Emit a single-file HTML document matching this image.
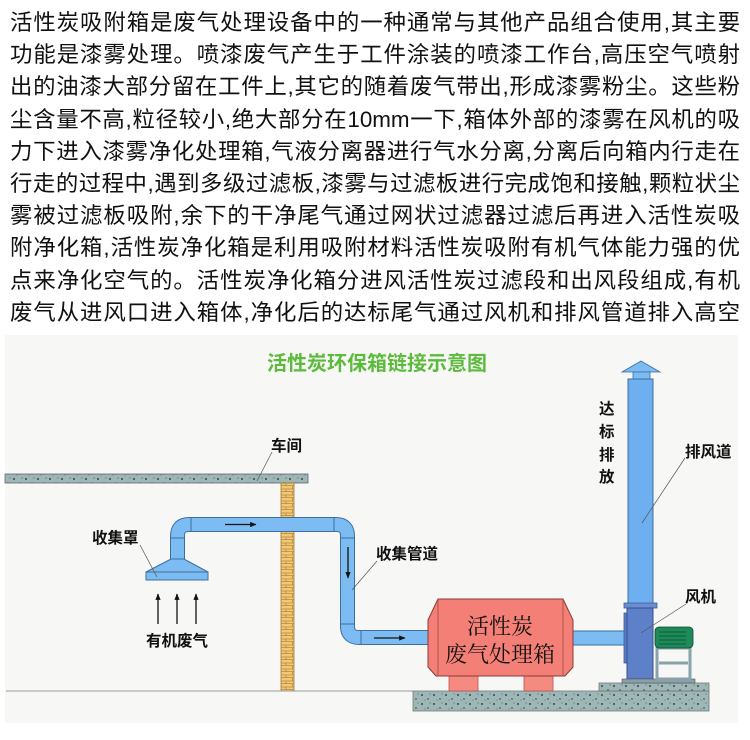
<!DOCTYPE html>
<html><head><meta charset="utf-8">
<style>
html,body{margin:0;padding:0;background:#fff;width:750px;height:740px;overflow:hidden}
.txt{position:absolute;left:10px;top:7px;width:730px;font-family:"Liberation Sans","Noto Sans CJK SC",sans-serif;font-size:22.4px;line-height:32.2px;color:#111}
.txt div{text-align:justify;text-align-last:justify;white-space:nowrap;height:32.2px}
svg{position:absolute;left:0;top:0}
.lb{font-family:"Liberation Sans","Noto Sans CJK SC",sans-serif;font-weight:bold;font-size:15.5px;fill:#111}
</style></head><body>
<div class="txt">
<div>活性炭吸附箱是废气处理设备中的一种通常与其他产品组合使用,其主要</div>
<div>功能是漆雾处理。喷漆废气产生于工件涂装的喷漆工作台,高压空气喷射</div>
<div>出的油漆大部分留在工件上,其它的随着废气带出,形成漆雾粉尘。这些粉</div>
<div>尘含量不高,粒径较小,绝大部分在10mm一下,箱体外部的漆雾在风机的吸</div>
<div>力下进入漆雾净化处理箱,气液分离器进行气水分离,分离后向箱内行走在</div>
<div>行走的过程中,遇到多级过滤板,漆雾与过滤板进行完成饱和接触,颗粒状尘</div>
<div>雾被过滤板吸附,余下的干净尾气通过网状过滤器过滤后再进入活性炭吸</div>
<div>附净化箱,活性炭净化箱是利用吸附材料活性炭吸附有机气体能力强的优</div>
<div>点来净化空气的。活性炭净化箱分进风活性炭过滤段和出风段组成,有机</div>
<div>废气从进风口进入箱体,净化后的达标尾气通过风机和排风管道排入高空</div>
</div>
<svg width="750" height="740" viewBox="0 0 750 740">
<defs>
<pattern id="dots" width="12" height="9" patternUnits="userSpaceOnUse">
<rect width="12" height="9" fill="#9db6b6"/>
<circle cx="2" cy="2" r="0.9" fill="#222"/><circle cx="8" cy="6" r="0.7" fill="#333"/><circle cx="5" cy="7" r="0.5" fill="#555"/><circle cx="10" cy="1" r="0.5" fill="#444"/>
</pattern>
<pattern id="brick" width="13" height="6" patternUnits="userSpaceOnUse">
<rect width="13" height="6" fill="#f0c878"/>
<path d="M0 5.5H13M6.5 0V3M0 3H13M0 3V6M13 3V6" stroke="#b88a3a" stroke-width="0.8" fill="none"/>
</pattern>
<marker id="ah" viewBox="0 0 10 10" refX="9" refY="5" markerWidth="5" markerHeight="5" orient="auto"><path d="M0 1L10 5L0 9z" fill="#111"/></marker>
</defs>
<rect x="5" y="335" width="733" height="388" fill="#f7f7f6"/>
<text x="377" y="370" text-anchor="middle" font-family="Liberation Sans,Noto Sans CJK SC,sans-serif" font-weight="bold" font-size="20" fill="#5cba3c">活性炭环保箱链接示意图</text>
<rect x="5" y="474" width="303" height="9" fill="url(#dots)" stroke="#667" stroke-width="0.8"/>
<rect x="281" y="483" width="13" height="208" fill="url(#brick)" stroke="#a07a30" stroke-width="0.8"/>
<line x1="6" y1="691" x2="414" y2="691" stroke="#999" stroke-width="1"/>
<path d="M177.5 560 V536 Q177.5 524.5 189 524.5 H336 Q347.5 524.5 347.5 536 V626 Q347.5 637.5 359 637.5 H436" fill="none" stroke="#3d6e9e" stroke-width="15"/>
<path d="M177.5 560 V536 Q177.5 524.5 189 524.5 H336 Q347.5 524.5 347.5 536 V626 Q347.5 637.5 359 637.5 H436" fill="none" stroke="#7cbcf2" stroke-width="13"/>
<g stroke="#3d6e9e" stroke-width="1">
<line x1="171" y1="538" x2="184" y2="538"/><line x1="191" y1="517" x2="191" y2="532"/>
<line x1="334" y1="517" x2="334" y2="532"/><line x1="341" y1="538" x2="354" y2="538"/>
<line x1="341" y1="624" x2="354" y2="624"/><line x1="361" y1="631" x2="361" y2="644"/>
</g>
<path d="M171 559 H184 L208 572 H146 Z" fill="#7cbcf2" stroke="#3d6e9e" stroke-width="1"/>
<rect x="146" y="572" width="62" height="8" fill="#7cbcf2" stroke="#3d6e9e" stroke-width="1"/>
<g stroke="#111" stroke-width="1.3" marker-end="url(#ah)">
<line x1="225" y1="524.5" x2="256" y2="524.5"/>
<line x1="348" y1="547" x2="348" y2="578"/>
<line x1="374" y1="638" x2="405" y2="638"/>
<line x1="587" y1="638" x2="618" y2="638"/>
<line x1="641" y1="475" x2="641" y2="444"/>
<line x1="158" y1="624" x2="158" y2="594"/>
<line x1="177" y1="624" x2="177" y2="594"/>
<line x1="196" y1="624" x2="196" y2="594"/>
</g>
<rect x="413" y="691" width="296" height="20" fill="url(#dots)" stroke="#777" stroke-width="0.8"/>
<rect x="599" y="683" width="110" height="8" fill="url(#dots)" stroke="#777" stroke-width="0.8"/>
<rect x="572" y="631" width="56" height="14" fill="#7cbcf2" stroke="#3d6e9e" stroke-width="1"/>
<rect x="449" y="676" width="29" height="15" fill="#f48a80" stroke="#b55" stroke-width="0.8"/>
<rect x="524" y="676" width="29" height="15" fill="#f48a80" stroke="#b55" stroke-width="0.8"/>
<path d="M438 599 H563 L573 620 V667 L565 676 H436 L428 667 V620 Z" fill="#f47f76" stroke="#8a3a36" stroke-width="1"/>
<line x1="438" y1="599" x2="438" y2="676" stroke="#a04a44" stroke-width="0.8"/>
<line x1="563" y1="599" x2="563" y2="676" stroke="#a04a44" stroke-width="0.8"/>
<text x="500" y="634" text-anchor="middle" font-family="Liberation Serif,Noto Serif CJK SC,serif" font-size="22" fill="#111">活性炭</text>
<text x="500" y="662" text-anchor="middle" font-family="Liberation Serif,Noto Serif CJK SC,serif" font-size="22" fill="#111">废气处理箱</text>
<path d="M641 361 L660 372 H622 Z" fill="#7cbcf2" stroke="#3d6e9e" stroke-width="0.8"/>
<rect x="633" y="372" width="17" height="7" fill="#7cbcf2" stroke="#3d6e9e" stroke-width="0.8"/>
<rect x="628" y="379" width="25" height="225" fill="#6eaff0" stroke="#3d6e9e" stroke-width="1"/>
<rect x="624" y="603" width="33" height="5" fill="#6a8ed0" stroke="#3d5e9e" stroke-width="0.8"/>
<rect x="624" y="613" width="5" height="50" fill="#5a7cc4" stroke="#3d5e9e" stroke-width="0.8"/>
<rect x="627" y="608" width="26" height="71" fill="#5d80c8" stroke="#34508e" stroke-width="1"/>
<rect x="622" y="679" width="73" height="4" fill="#8aa0a6" stroke="#556" stroke-width="0.6"/>
<rect x="657" y="648" width="33" height="31" fill="none" stroke="#8aa3aa" stroke-width="3"/>
<line x1="659" y1="663" x2="688" y2="663" stroke="#8aa3aa" stroke-width="3"/>
<rect x="655" y="627" width="38" height="21" rx="4" fill="#1e8a5a" stroke="#0c4a30" stroke-width="0.8"/>
<g stroke="#0c4a30" stroke-width="0.8"><line x1="659" y1="632" x2="686" y2="632"/><line x1="659" y1="636" x2="686" y2="636"/><line x1="659" y1="640" x2="686" y2="640"/><line x1="659" y1="644" x2="686" y2="644"/></g>
<g stroke="#555" stroke-width="0.7">
<line x1="257" y1="481" x2="272" y2="452"/>
<line x1="140" y1="545" x2="157" y2="577"/>
<line x1="352" y1="590" x2="377" y2="561"/>
<line x1="642" y1="523" x2="685" y2="458"/>
<line x1="641" y1="633" x2="686" y2="604"/>
</g>
<text class="lb" x="271" y="451">车间</text>
<text class="lb" x="92" y="543">收集罩</text>
<text class="lb" x="146" y="646">有机废气</text>
<text class="lb" x="376" y="559">收集管道</text>
<text class="lb" x="685" y="457">排风道</text>
<text class="lb" x="685" y="602">风机</text>
<text class="lb" x="599" y="414">达</text>
<text class="lb" x="599" y="437">标</text>
<text class="lb" x="599" y="460">排</text>
<text class="lb" x="599" y="482">放</text>
</svg>
</body></html>
